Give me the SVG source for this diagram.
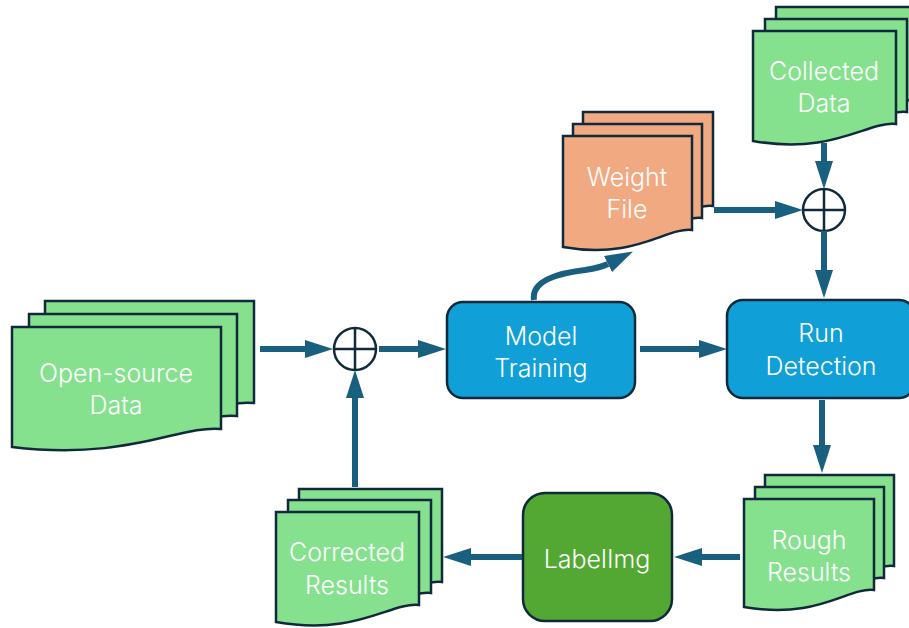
<svg xmlns="http://www.w3.org/2000/svg" width="909" height="628" viewBox="0 0 909 628">
<style>
.doc{stroke:#102A3C;stroke-width:2.5;stroke-linejoin:miter}
.g{fill:#86E18F}
.o{fill:#F1A982}
.box{stroke:#102A3C;stroke-width:2.5}
.t{font-family:Inter,"Noto Sans","Liberation Sans",sans-serif;font-weight:300;font-size:25px;fill:#FFFFFF;text-anchor:middle}
.c{stroke:#185F80;stroke-width:6;fill:none}
.op{fill:#FFFFFF;stroke:#102A3C;stroke-width:2.5}
</style>
<defs>
<marker id="ah" markerUnits="userSpaceOnUse" viewBox="0 0 28 18" refX="0" refY="9" markerWidth="28" markerHeight="18" orient="auto">
<path d="M0,0 L28,9 L0,18 z" fill="#185F80"/>
</marker>
</defs>

<!-- Open-source Data -->
<g id="open-source-data">
<path class="doc g" d="M45,301 H254 V403 C212,399 161,435 45,421 Z"/>
<path class="doc g" d="M29,314 H237 V416 C196,412 144,448 29,434 Z"/>
<path class="doc g" d="M12,327 H221 V429 C179,425 128,461 12,447 Z"/>
<text class="t" x="116" y="382">Open-source</text>
<text class="t" x="116" y="414">Data</text>
</g>

<!-- Weight File -->
<g id="weight-file">
<path class="doc o" d="M583,112 H713 V206 C687,203 657,236 583,223 Z"/>
<path class="doc o" d="M573,124 H702 V218 C676,215 646,248 573,235 Z"/>
<path class="doc o" d="M563,136 H692 V230 C666,227 636,260 563,247 Z"/>
<text class="t" x="627" y="186">Weight</text>
<text class="t" x="627" y="218">File</text>
</g>

<!-- Collected Data -->
<g id="collected-data">
<path class="doc g" d="M776,7 H919 V100 C890,97 857,131 776,117 Z"/>
<path class="doc g" d="M765,19 H907 V112 C878,109 845,143 765,129 Z"/>
<path class="doc g" d="M753,31 H896 V124 C867,121 834,155 753,141 Z"/>
<text class="t" x="824" y="80">Collected</text>
<text class="t" x="824" y="112">Data</text>
</g>

<!-- Rough Results -->
<g id="rough-results">
<path class="doc g" d="M765,475 H894 V566 C868,563 838,596 765,583 Z"/>
<path class="doc g" d="M755,487 H884 V578 C858,575 828,608 755,595 Z"/>
<path class="doc g" d="M744,499 H874 V590 C848,587 818,620 744,607 Z"/>
<text class="t" x="809" y="549">Rough</text>
<text class="t" x="809" y="581">Results</text>
</g>

<!-- Corrected Results -->
<g id="corrected-results">
<path class="doc g" d="M299,489 H442 V582 C413,579 380,613 299,599 Z"/>
<path class="doc g" d="M288,500 H431 V593 C402,590 369,624 288,610 Z"/>
<path class="doc g" d="M276,512 H419 V605 C390,602 357,636 276,622 Z"/>
<text class="t" x="347" y="561">Corrected</text>
<text class="t" x="347" y="594">Results</text>
</g>

<!-- Model Training -->
<g id="model-training">
<rect class="box" x="447" y="302" width="188" height="96" rx="16" fill="#109FD7"/>
<text class="t" x="541" y="345">Model</text>
<text class="t" x="541" y="377">Training</text>
</g>

<!-- Run Detection -->
<g id="run-detection">
<rect class="box" x="727" y="300" width="188" height="98" rx="16" fill="#109FD7"/>
<text class="t" x="821" y="342">Run</text>
<text class="t" x="821" y="375">Detection</text>
</g>

<!-- LabelImg -->
<g id="labelimg">
<rect class="box" x="523" y="493" width="149" height="128" rx="22" fill="#52A832"/>
<text class="t" x="597" y="568">LabelImg</text>
</g>

<!-- Sum operators -->
<g id="sum-left">
<circle class="op" cx="355" cy="349" r="21"/>
<path d="M334,349 H376 M355,328 V370" stroke="#102A3C" stroke-width="2.5"/>
</g>
<g id="sum-right">
<circle class="op" cx="824" cy="210" r="21"/>
<path d="M803,210 H845 M824,189 V231" stroke="#102A3C" stroke-width="2.5"/>
</g>

<!-- Connectors -->
<g id="connectors">
<path class="c" d="M260,349 H305" marker-end="url(#ah)"/>
<path class="c" d="M379,349 H418" marker-end="url(#ah)"/>
<path class="c" d="M355,487 V398" marker-end="url(#ah)"/>
<path class="c" d="M640,349 H699" marker-end="url(#ah)"/>
<path class="c" d="M534,300 C531,280 560,273 585,270 C598,268 604,266 608,264" marker-end="url(#ah)"/>
<path class="c" d="M714,210 H775" marker-end="url(#ah)"/>
<path class="c" d="M824,143 V161" marker-end="url(#ah)"/>
<path class="c" d="M824,231 V270" marker-end="url(#ah)"/>
<path class="c" d="M822,400 V445" marker-end="url(#ah)"/>
<path class="c" d="M740,557 H702" marker-end="url(#ah)"/>
<path class="c" d="M522,557 H471" marker-end="url(#ah)"/>
</g>
</svg>
